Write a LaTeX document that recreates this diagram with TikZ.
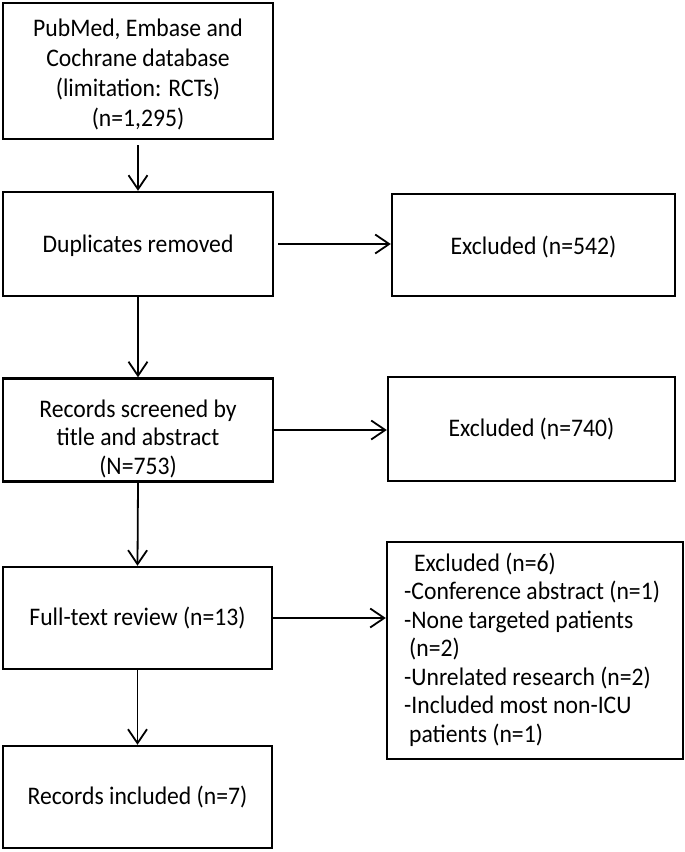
\documentclass[tikz,border=0pt]{standalone}
\usepackage{fontspec}
\setmainfont{Carlito}[FakeStretch=0.935]
\usetikzlibrary{arrows.meta}
\begin{document}
\begin{tikzpicture}[x=1pt,y=-1pt,
  box/.style={draw=black,line width=2.4pt,align=center,inner sep=0pt,
    font=\fontsize{25.3}{30}\selectfont},
  conn/.style={line width=1.8pt,-{Straight Barb[length=14pt,width=19pt,line width=1.8pt]}}]
\useasboundingbox (0,0) rectangle (685,852);
\node[box,minimum width=270pt,minimum height=136pt] (b1) at (138,71)
  {\rule{0pt}{24pt}PubMed, Embase and\\Cochrane database\\(limitation: RCTs)\\(n=1,295)};
\node[box,minimum width=270pt,minimum height=104pt] (b2) at (138,244) {\rule{0pt}{22pt}Duplicates removed};
\node[box,minimum width=283pt,minimum height=102pt] (e1) at (533.5,245) {\rule{0pt}{22pt}Excluded (n=542)};
\node[box,minimum width=270pt,minimum height=103pt,font=\fontsize{25.3}{28.5}\selectfont] (b3) at (138,430)
  {\rule{0pt}{35pt}Records screened by\\title and abstract\\(N=753)};
\node[box,minimum width=287pt,minimum height=104pt] (e2) at (531.5,429) {Excluded (n=740)};
\node[box,minimum width=269pt,minimum height=102pt] (b4) at (137.5,618) {Full-text review (n=13)};
\node[box,minimum width=296pt,minimum height=217pt] (e3) at (535,650.5) {};
\node[inner sep=0pt,anchor=west,font=\fontsize{25.3}{28.5}\selectfont] (e3t) at (404,651)
  {\begin{tabular}{@{}l@{}}
   \hspace{10pt}Excluded (n=6)\\-Conference abstract (n=1)\\-None targeted patients\\
   \hspace{5pt}(n=2)\\-Unrelated research (n=2)\\-Included most non-ICU\\
   \hspace{5pt}patients (n=1)\end{tabular}};
\node[box,minimum width=269pt,minimum height=102pt] (b5) at (137.5,797) {Records included (n=7)};
\draw[conn] (b1.south) ++(0,5) -- (b2.north);
\draw[conn] ([xshift=4pt]b2.east) -- (e1.west |- b2.east);
\draw[conn] (b2.south) -- (b3.north);
\draw[conn] (b3.east) -- (e2.west |- b3.east);
\draw[conn] (b3.south) -- (b4.north);
\draw[conn] (b4.east) -- (e3.west |- b4.east);
\draw[conn] (b4.south) -- (b5.north);
\end{tikzpicture}
\end{document}
